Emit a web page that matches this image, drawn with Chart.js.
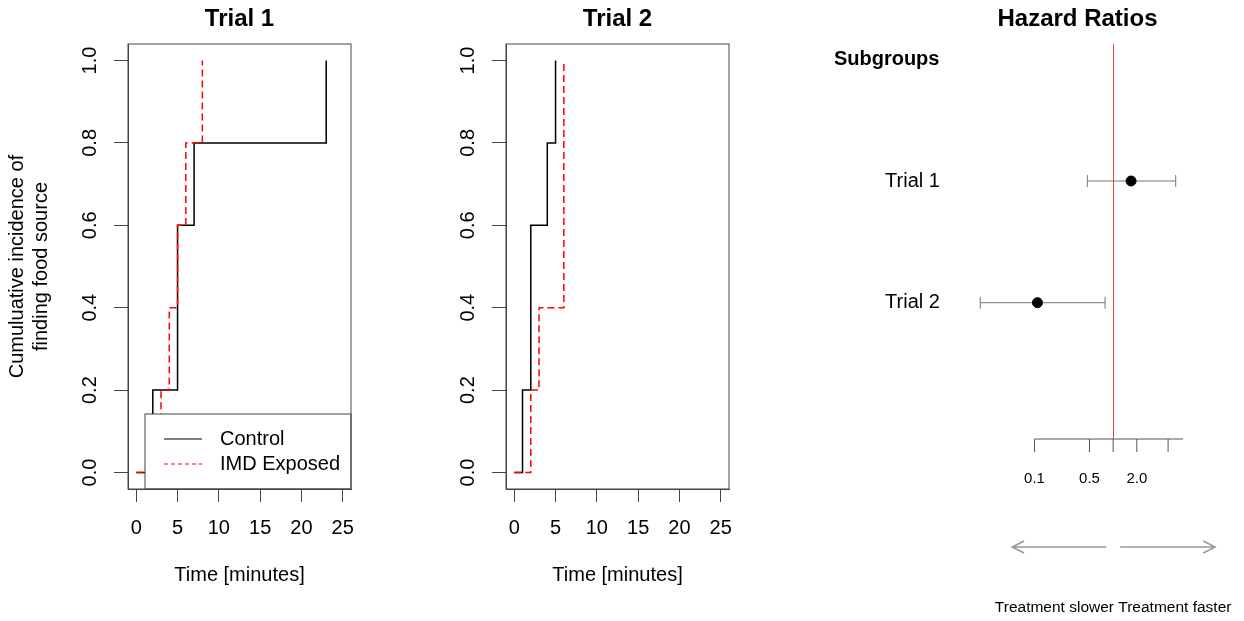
<!DOCTYPE html>
<html lang="en">
<head>
<meta charset="UTF-8">
<title>Cumulative incidence and hazard ratios</title>
<script src="https://cdn.jsdelivr.net/npm/chart.js@4"></script>
<style>
    body {
        margin: 0;
        background: #fff;
        width: 1244px;
        height: 621px;
        overflow: hidden;
        position: relative;
    }
    .panel { position: absolute; top: 0; height: 621px; }
    #p1 { left: 0; width: 380px; }
    #p2 { left: 378px; width: 380px; }
    #p3 { left: 800px; width: 444px; }
</style>
</head>
<body>
<div class="panel" id="p1"><canvas id="trial1"></canvas></div>
<div class="panel" id="p2"><canvas id="trial2"></canvas></div>
<div class="panel" id="p3"><canvas id="forest"></canvas></div>

<script>
// Trial 1 - time of finding food (minutes) vs cumulative incidence
const t1ControlTime = [0, 2, 5, 7, 23];
const t1ControlInc  = [0, 0.2, 0.6, 0.8, 1.0];
const t1ImdTime = [0, 3, 4, 5, 6, 8];
const t1ImdInc  = [0, 0.2, 0.4, 0.6, 0.8, 1.0];

// Trial 2
const t2ControlTime = [0, 1, 2, 4, 5];
const t2ControlInc  = [0, 0.2, 0.6, 0.8, 1.0];
const t2ImdTime = [0, 2, 3, 6];
const t2ImdInc  = [0, 0.2, 0.4, 1.0];

const groupNames = ['Control', 'IMD Exposed'];
const timeTicks = [0, 5, 10, 15, 20, 25];
const incTicks = [0, 0.2, 0.4, 0.6, 0.8, 1.0];

// Hazard ratios (log scale)
const subgroups = ['Trial 1', 'Trial 2'];
const hrEst  = [1.69, 0.109];
const hrLow  = [0.47, 0.0204];
const hrHigh = [6.25, 0.79];
const hrTicks = [0.1, 0.5, 1, 2, 5];
const hrTickLabels = ['0.1', '0.5', '', '2.0', ''];
const hrAxisEnd = 7.75;
const directionLabels = ['Treatment slower', 'Treatment faster'];

const FONT = '"Liberation Sans", Arial, sans-serif';
Chart.defaults.font.family = FONT;
Chart.defaults.color = '#000';

function pairs(xs, ys) {
    return xs.map((x, i) => ({ x: x, y: ys[i] }));
}

// frame around the plot region + optional legend inside it
const boxPlugin = {
    id: 'box',
    afterDatasetsDraw(chart, args, opts) {
        const a = chart.chartArea;
        const ctx = chart.ctx;
        ctx.save();
        if (opts.legend) {
            const lx = a.left + 17, lh = 75, ly = a.bottom - lh, lw = a.right - lx;
            ctx.fillStyle = '#fff';
            ctx.fillRect(lx, ly, lw, lh);
            ctx.strokeStyle = '#444';
            ctx.lineWidth = 1;
            ctx.strokeRect(lx, ly, lw, lh);
            chart.data.datasets.forEach((ds, i) => {
                const y = ly + 25 + i * 25;
                ctx.strokeStyle = ds.borderColor;
                ctx.lineWidth = 1;
                ctx.setLineDash(ds.borderDash ? [4, 3] : []);
                ctx.beginPath();
                ctx.moveTo(lx + 19, y);
                ctx.lineTo(lx + 57, y);
                ctx.stroke();
                ctx.setLineDash([]);
                ctx.fillStyle = '#000';
                ctx.font = '20px ' + FONT;
                ctx.textBaseline = 'middle';
                ctx.textAlign = 'left';
                ctx.fillText(ds.label, lx + 75, y);
            });
        }
        ctx.strokeStyle = '#444';
        ctx.lineWidth = 1;
        ctx.strokeRect(a.left, a.top, a.right - a.left, a.bottom - a.top);
        ctx.restore();
    }
};

function kmChart(id, title, ctrl, imd, showYTitle, showLegend) {
    return new Chart(document.getElementById(id), {
        type: 'line',
        data: {
            datasets: [
                { label: groupNames[0], data: ctrl, borderColor: '#000', borderWidth: 1.5,
                  stepped: true, pointRadius: 0, fill: false, order: 1 },
                { label: groupNames[1], data: imd, borderColor: '#ff0000', borderWidth: 1.5,
                  borderDash: [7, 4], stepped: true, pointRadius: 0, fill: false, order: 0 }
            ]
        },
        options: {
            responsive: true,
            maintainAspectRatio: false,
            animation: false,
            layout: { padding: { left: 0, right: 29, top: 0, bottom: 0 } },
            plugins: {
                legend: { display: false },
                tooltip: { enabled: false },
                title: {
                    display: true, text: title, fullSize: false, color: '#000',
                    font: { size: 24, weight: 'bold' },
                    padding: { top: 5, bottom: 10.2 }
                },
                box: { legend: showLegend }
            },
            scales: {
                x: {
                    type: 'linear', min: -1, max: 26,
                    afterBuildTicks: s => { s.ticks = timeTicks.map(v => ({ value: v })); },
                    afterFit: s => { s.height = 132; },
                    grid: { drawOnChartArea: false, tickLength: 13, color: '#444' },
                    border: { color: '#444' },
                    ticks: { font: { size: 20 }, color: '#000', padding: 14, maxRotation: 0, autoSkip: false },
                    title: {
                        display: true, text: 'Time [minutes]', color: '#000',
                        font: { size: 20 }, padding: { top: 0, bottom: 34 }
                    }
                },
                y: {
                    type: 'linear', min: -0.04, max: 1.04,
                    afterBuildTicks: s => { s.ticks = incTicks.map(v => ({ value: v })); },
                    afterFit: s => { s.width = 128; },
                    grid: { drawOnChartArea: false, tickLength: 14, color: '#444' },
                    border: { color: '#444' },
                    ticks: {
                        font: { size: 20 }, color: '#000', padding: 10,
                        minRotation: 90, maxRotation: 90, crossAlign: 'center', autoSkip: false,
                        callback: v => v.toFixed(1)
                    },
                    title: {
                        display: showYTitle,
                        text: ['Cumuluative incidence of', 'finding food source'],
                        color: '#000', font: { size: 20 }, padding: { top: 5, bottom: 0 }
                    }
                }
            }
        },
        plugins: [boxPlugin]
    });
}

kmChart('trial1', 'Trial 1', pairs(t1ControlTime, t1ControlInc), pairs(t1ImdTime, t1ImdInc), true, true);
kmChart('trial2', 'Trial 2', pairs(t2ControlTime, t2ControlInc), pairs(t2ImdTime, t2ImdInc), false, false);

// forest plot decorations: reference line, CIs, labels, axis, arrows
const forestPlugin = {
    id: 'forest',
    beforeDatasetsDraw(chart) {
        const a = chart.chartArea;
        const ctx = chart.ctx;
        const xs = chart.scales.x, ys = chart.scales.y;
        const x1 = xs.getPixelForValue(1);
        ctx.save();

        // no-effect line
        ctx.strokeStyle = '#e04848';
        ctx.lineWidth = 1;
        ctx.beginPath();
        ctx.moveTo(Math.round(x1) + 0.5, a.top);
        ctx.lineTo(Math.round(x1) + 0.5, a.bottom);
        ctx.stroke();

        // header
        ctx.fillStyle = '#000';
        ctx.textBaseline = 'middle';
        ctx.textAlign = 'left';
        ctx.font = 'bold 20px ' + FONT;
        ctx.fillText('Subgroups', a.left - 122, ys.getPixelForValue(subgroups.length + 1));

        // rows
        subgroups.forEach((name, i) => {
            const y = ys.getPixelForValue(subgroups.length - i);
            const lo = xs.getPixelForValue(hrLow[i]);
            const hi = xs.getPixelForValue(hrHigh[i]);
            ctx.strokeStyle = '#777';
            ctx.lineWidth = 1;
            ctx.beginPath();
            ctx.moveTo(lo, y); ctx.lineTo(hi, y);
            ctx.moveTo(lo, y - 6); ctx.lineTo(lo, y + 6);
            ctx.moveTo(hi, y - 6); ctx.lineTo(hi, y + 6);
            ctx.stroke();
            ctx.fillStyle = '#000';
            ctx.font = '20px ' + FONT;
            ctx.textAlign = 'right';
            ctx.fillText(name, a.left - 16, y);
        });

        // x axis
        const ay = a.bottom;
        ctx.strokeStyle = '#555';
        ctx.lineWidth = 1;
        ctx.beginPath();
        ctx.moveTo(xs.getPixelForValue(hrTicks[0]), ay);
        ctx.lineTo(xs.getPixelForValue(hrAxisEnd), ay);
        hrTicks.forEach(v => {
            const px = xs.getPixelForValue(v);
            ctx.moveTo(px, ay);
            ctx.lineTo(px, ay + 13);
        });
        ctx.stroke();
        ctx.fillStyle = '#000';
        ctx.font = '15px ' + FONT;
        ctx.textAlign = 'center';
        hrTicks.forEach((v, i) => {
            ctx.fillText(hrTickLabels[i], xs.getPixelForValue(v), ay + 40);
        });

        // direction arrows
        const yy = ay + 108;
        ctx.strokeStyle = '#999';
        ctx.lineWidth = 1.5;
        ctx.beginPath();
        ctx.moveTo(x1 - 7, yy); ctx.lineTo(x1 - 101, yy);
        ctx.moveTo(x1 - 89, yy - 6); ctx.lineTo(x1 - 101, yy); ctx.lineTo(x1 - 89, yy + 6);
        ctx.moveTo(x1 + 7, yy); ctx.lineTo(x1 + 102, yy);
        ctx.moveTo(x1 + 90, yy - 6); ctx.lineTo(x1 + 102, yy); ctx.lineTo(x1 + 90, yy + 6);
        ctx.stroke();
        ctx.fillStyle = '#000';
        ctx.font = '15.5px ' + FONT;
        ctx.textAlign = 'center';
        ctx.fillText(directionLabels.join(' '), x1, ay + 169);

        ctx.restore();
    }
};

new Chart(document.getElementById('forest'), {
    type: 'scatter',
    data: {
        datasets: [{
            label: 'Hazard ratio',
            data: hrEst.map((v, i) => ({ x: v, y: subgroups.length - i })),
            pointRadius: 5,
            backgroundColor: '#000',
            borderColor: '#000'
        }]
    },
    options: {
        responsive: true,
        maintainAspectRatio: false,
        animation: false,
        layout: { padding: { left: 155.9, right: 44.9, top: 0, bottom: 182 } },
        plugins: {
            legend: { display: false },
            tooltip: { enabled: false },
            title: {
                display: true, text: 'Hazard Ratios', fullSize: false, color: '#000',
                font: { size: 24, weight: 'bold' },
                padding: { top: 5, bottom: 10.2 }
            }
        },
        scales: {
            x: { type: 'logarithmic', min: 0.01, max: 12.4, display: false },
            y: { type: 'linear', min: -0.12, max: 3.126, display: false }
        }
    },
    plugins: [forestPlugin]
});
</script>
</body>
</html>
